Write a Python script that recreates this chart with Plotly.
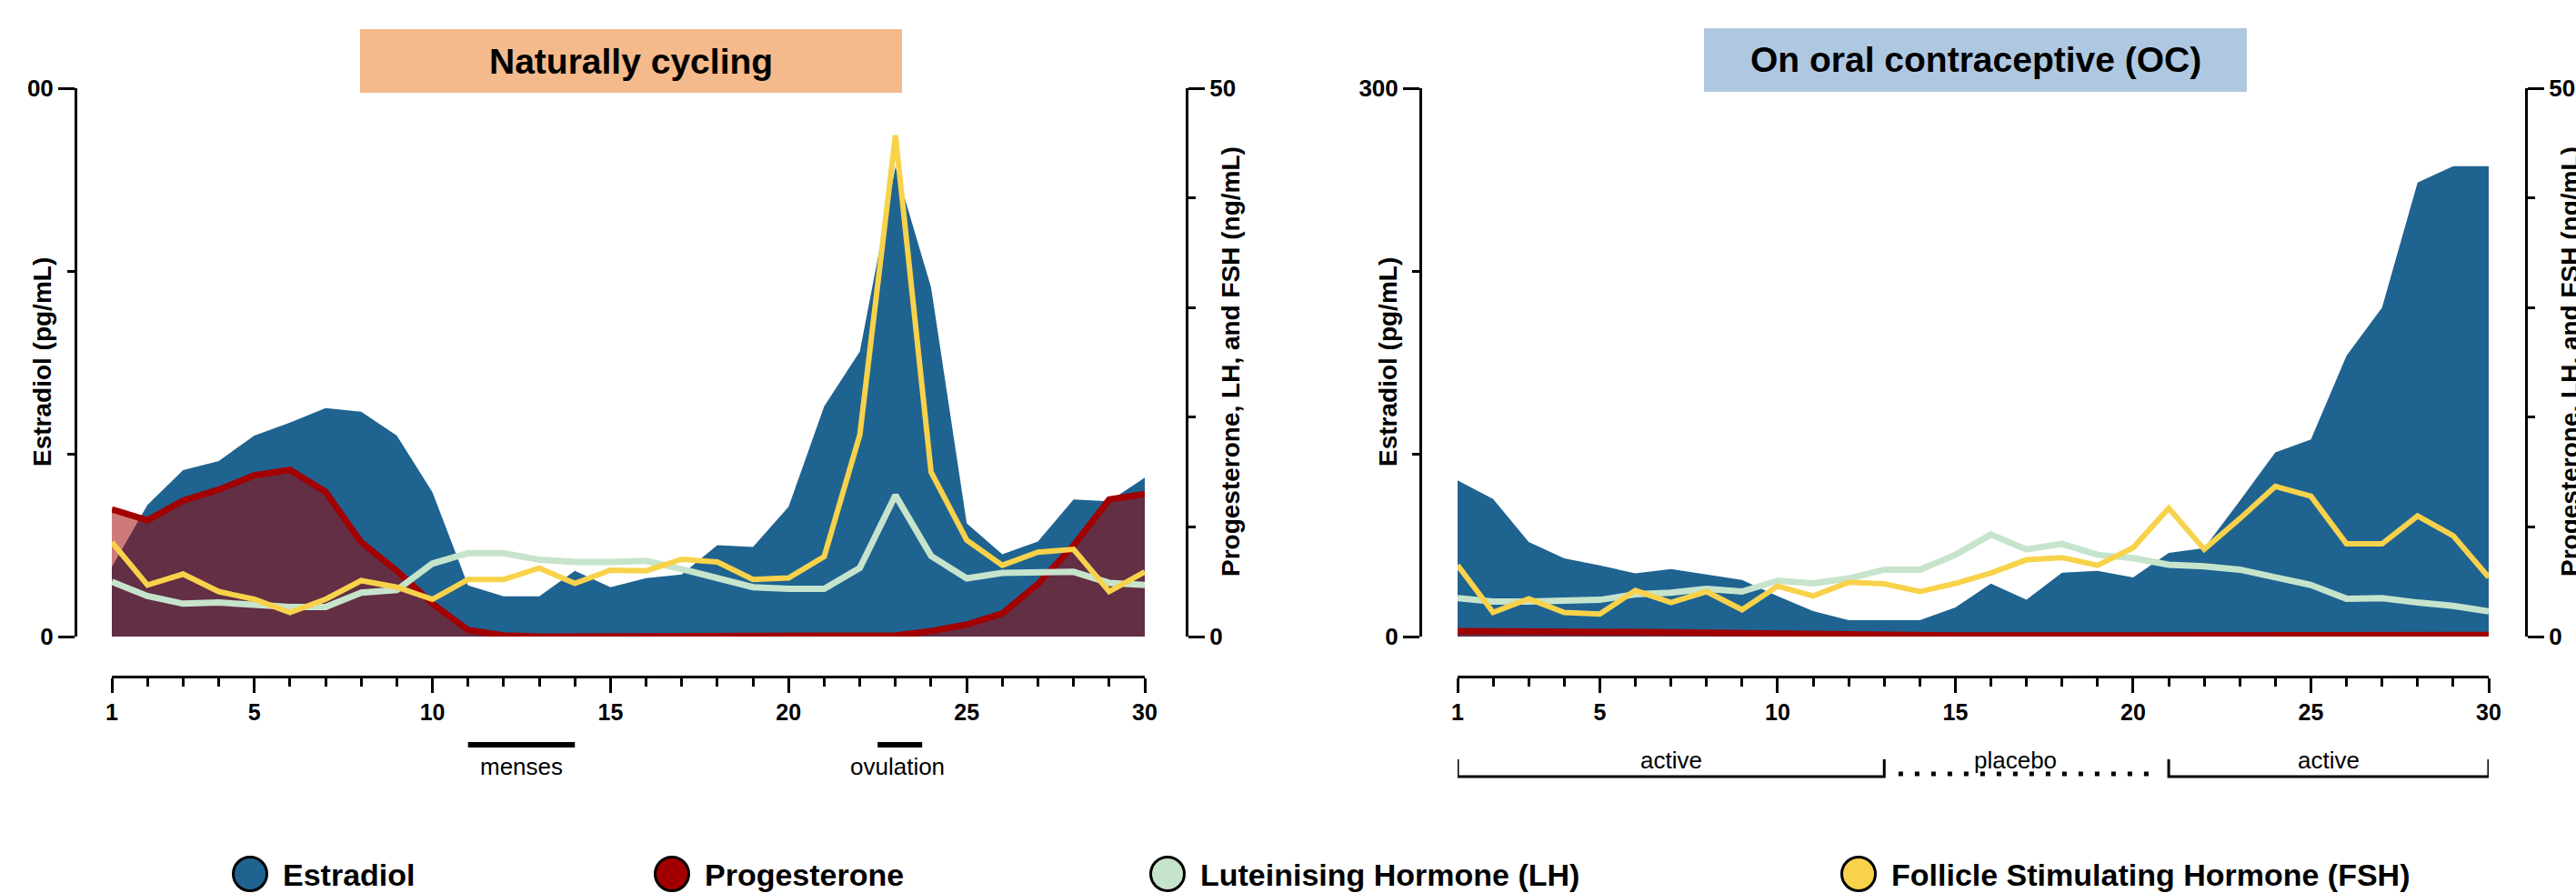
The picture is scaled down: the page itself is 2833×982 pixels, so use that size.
import plotly.graph_objects as go

W, H = 2833, 982

# ---------------- data ----------------
days = list(range(1, 31))

nat_estradiol = [38, 72, 91, 96, 110, 117, 125, 123, 110, 79, 28, 22, 22, 36, 27,
                 32, 34, 50, 49, 71, 126, 156, 257, 191, 62, 45, 52, 75, 74, 87]
nat_progesterone = [11.6, 10.6, 12.4, 13.4, 14.7, 15.2, 13.2, 8.6, 6.0, 3.0, 0.6, 0.1, 0, 0, 0,
                    0, 0, 0, 0, 0, 0, 0, 0.1, 0.5, 1.1, 2.1, 4.8, 8.3, 12.5, 13.0]
nat_lh = [5.0, 3.7, 3.0, 3.1, 2.9, 2.7, 2.7, 4.0, 4.25, 6.65, 7.6, 7.6, 7.0, 6.8, 6.8,
          6.9, 6.15, 5.3, 4.5, 4.35, 4.35, 6.25, 12.9, 7.35, 5.3, 5.8, 5.9, 5.9, 4.9, 4.7]
nat_fsh = [8.6, 4.7, 5.7, 4.1, 3.4, 2.2, 3.4, 5.1, 4.5, 3.4, 5.2, 5.2, 6.25, 4.85, 6.05,
           6.0, 7.05, 6.8, 5.2, 5.35, 7.3, 18.4, 45.7, 15.0, 8.8, 6.5, 7.7, 7.95, 4.1, 5.9]

oc_estradiol = [85.5, 75.3, 51.7, 42.8, 38.9, 34.6, 36.9, 34.0, 31.0, 22.2, 13.9, 9.0, 9.0, 9.0, 15.9,
                29.0, 20.2, 35.0, 35.9, 32.4, 45.8, 48.4, 74.3, 100.8, 107.8, 153.6, 180.0, 248.4, 257.3, 257.3]
oc_progesterone = [0.5, 0.5, 0.45, 0.45, 0.45, 0.4, 0.4, 0.35, 0.3, 0.25, 0.2, 0.2, 0.15, 0.15, 0.1,
                   0.1, 0.1, 0.1, 0.1, 0.1, 0.1, 0.1, 0.1, 0.1, 0.15, 0.15, 0.15, 0.2, 0.15, 0.15]
oc_lh = [3.5, 3.2, 3.2, 3.3, 3.35, 3.85, 4.0, 4.35, 4.1, 5.1, 4.85, 5.3, 6.1, 6.1, 7.45,
         9.3, 7.95, 8.45, 7.45, 7.15, 6.55, 6.4, 6.1, 5.4, 4.7, 3.45, 3.5, 3.1, 2.8, 2.3]
oc_fsh = [6.5, 2.2, 3.45, 2.2, 2.05, 4.2, 3.1, 4.1, 2.45, 4.6, 3.7, 4.95, 4.8, 4.1, 4.85,
          5.8, 7.0, 7.2, 6.5, 8.1, 11.7, 7.95, 10.75, 13.7, 12.8, 8.45, 8.45, 11.0, 9.2, 5.4]

x_tickvals = [1, 5, 10, 15, 20, 25, 30]
series_names = ["Estradiol", "Progesterone", "Luteinising Hormone (LH)",
                "Follicle Stimulating Hormone (FSH)"]
panel_titles = ["Naturally cycling", "On oral contraceptive (OC)"]
left_title = "Estradiol (pg/mL)"
right_title = "Progesterone, LH, and FSH (ng/mL)"

# ---------------- styling ----------------
FONT = "Arial, 'Liberation Sans', Helvetica, sans-serif"
BLUE = "#1F6391"
RED = "#A20000"
RED_FILL = "rgba(162,0,0,0.52)"
LH_C = "#C6E4CC"
FSH_C = "#F8D24A"
PEACH = "#F5BA8B"
LBLUE = "#AFC8E1"


def PX(xp):
    return xp / W


def PY(yp):
    return 1 - yp / H


fig = go.Figure()

panels = [
    dict(x="x", ya="y", yb="y2", E=nat_estradiol, P=nat_progesterone, LH=nat_lh, FSH=nat_fsh),
    dict(x="x2", ya="y3", yb="y4", E=oc_estradiol, P=oc_progesterone, LH=oc_lh, FSH=oc_fsh),
]

for p in panels:
    fig.add_trace(go.Scatter(x=days, y=p["E"], xaxis=p["x"], yaxis=p["ya"], mode="lines",
                             line=dict(width=0, color=BLUE), fill="tozeroy", fillcolor=BLUE,
                             name=series_names[0], showlegend=False))
    fig.add_trace(go.Scatter(x=days, y=p["P"], xaxis=p["x"], yaxis=p["yb"], mode="lines",
                             line=dict(width=7, color=RED), fill="tozeroy", fillcolor=RED_FILL,
                             name=series_names[1], showlegend=False))
    fig.add_trace(go.Scatter(x=days, y=p["LH"], xaxis=p["x"], yaxis=p["yb"], mode="lines",
                             line=dict(width=7, color=LH_C),
                             name=series_names[2], showlegend=False))
    fig.add_trace(go.Scatter(x=days, y=p["FSH"], xaxis=p["x"], yaxis=p["yb"], mode="lines",
                             line=dict(width=6, color=FSH_C),
                             name=series_names[3], showlegend=False))

ydom = [PY(700), PY(97)]
tickfont_y = dict(family=FONT, size=26, color="black", weight="bold")
tickfont_x = dict(family=FONT, size=25, color="black", weight="bold")


def xaxis_cfg(x0, x1):
    return dict(domain=[PX(x0), PX(x1)], range=[1, 30], anchor="free", position=PY(744),
                showline=True, linewidth=3, linecolor="black", showgrid=False, zeroline=False,
                ticks="outside", tickvals=x_tickvals, ticklen=16, tickwidth=3, tickcolor="black",
                minor=dict(dtick=1, tick0=1, ticks="outside", ticklen=9, tickwidth=3, tickcolor="black"),
                tickfont=tickfont_x, automargin=False, fixedrange=True)


def yaxis_cfg(pos, side, rng, labels, minor_dtick, overlay=None):
    d = dict(range=rng, anchor="free", position=PX(pos), side=side,
             showline=True, linewidth=3, linecolor="black", showgrid=False, zeroline=False,
             ticks="outside", tickmode="array", tickvals=rng, ticktext=labels, ticklen=18,
             tickwidth=3, tickcolor="black",
             minor=dict(dtick=minor_dtick, tick0=0, ticks="outside", ticklen=8, tickwidth=3,
                        tickcolor="black"),
             tickfont=tickfont_y, automargin=False, fixedrange=True)
    if overlay:
        d["overlaying"] = overlay
    else:
        d["domain"] = ydom
    return d


fig.update_layout(
    width=W, height=H, autosize=False, template="none",
    paper_bgcolor="white", plot_bgcolor="rgba(0,0,0,0)",
    margin=dict(l=0, r=0, t=0, b=0, pad=0),
    showlegend=False,
    font=dict(family=FONT, color="black"),
    xaxis=xaxis_cfg(123, 1259),
    xaxis2=xaxis_cfg(1603, 2737),
    yaxis=yaxis_cfg(83, "left", [0, 300], ["0", "00"], 100),
    yaxis2=yaxis_cfg(1305, "right", [0, 50], ["0", "50"], 10, overlay="y"),
    yaxis3=yaxis_cfg(1562, "left", [0, 300], ["0", "300"], 100),
    yaxis4=yaxis_cfg(2778, "right", [0, 50], ["0", "50"], 10, overlay="y3"),
)

shapes = []
annotations = []

# title boxes
for (x0, x1, y0, y1, col, txt) in [(396, 992, 32, 102, PEACH, panel_titles[0]),
                                   (1874, 2471, 31, 101, LBLUE, panel_titles[1])]:
    shapes.append(dict(type="rect", xref="paper", yref="paper", x0=PX(x0), x1=PX(x1),
                       y0=PY(y1), y1=PY(y0), fillcolor=col, line=dict(width=0), layer="below"))
    annotations.append(dict(xref="paper", yref="paper", x=PX((x0 + x1) / 2), y=PY((y0 + y1) / 2),
                            text="<b>" + txt + "</b>", showarrow=False, xanchor="center",
                            yanchor="middle", font=dict(family=FONT, size=39, color="black")))

# axis titles
for xc, txt in [(46, left_title), (1353, right_title), (1526, left_title), (2826, right_title)]:
    annotations.append(dict(xref="paper", yref="paper", x=PX(xc), y=PY(398), text="<b>" + txt + "</b>",
                            textangle=-90, showarrow=False, xanchor="center", yanchor="middle",
                            font=dict(family=FONT, size=28, color="black")))

# menses / ovulation markers (left panel, in day units)
for (d0, d1, lbl, lc) in [(11, 14, "menses", 12.5), (22.5, 23.75, "ovulation", 23.05)]:
    shapes.append(dict(type="line", xref="x", yref="paper", x0=d0, x1=d1, y0=PY(819), y1=PY(819),
                       line=dict(color="black", width=6)))
    annotations.append(dict(xref="x", yref="paper", x=lc, y=PY(843), text=lbl, showarrow=False,
                            xanchor="center", yanchor="middle",
                            font=dict(family=FONT, size=26, color="black")))

# active / placebo brackets (right panel)
yb, yt = 854, 835
for (d0, d1, lbl) in [(1, 13, "active"), (21, 30, "active")]:
    shapes.append(dict(type="path", xref="x2", yref="paper",
                       path=f"M {d0},{PY(yt)} L {d0},{PY(yb)} L {d1},{PY(yb)} L {d1},{PY(yt)}",
                       line=dict(color="black", width=3)))
    annotations.append(dict(xref="x2", yref="paper", x=(d0 + d1) / 2, y=PY(836), text=lbl,
                            showarrow=False, xanchor="center", yanchor="middle",
                            font=dict(family=FONT, size=26, color="black")))
shapes.append(dict(type="line", xref="x2", yref="paper", x0=13.4, x1=20.55, y0=PY(851), y1=PY(851),
                   line=dict(color="black", width=5, dash="5px,13px")))
annotations.append(dict(xref="x2", yref="paper", x=16.7, y=PY(836), text="placebo", showarrow=False,
                        xanchor="center", yanchor="middle",
                        font=dict(family=FONT, size=26, color="black")))

# legend
leg_cols = [BLUE, RED, LH_C, FSH_C]
leg_cx = [275, 739, 1284, 2044]
r = 18.5
for name, col, cx in zip(series_names, leg_cols, leg_cx):
    shapes.append(dict(type="circle", xref="paper", yref="paper", x0=PX(cx - r), x1=PX(cx + r),
                       y0=PY(961 + r), y1=PY(961 - r), fillcolor=col, line=dict(color="black", width=3)))
    annotations.append(dict(xref="paper", yref="paper", x=PX(cx + 34), y=PY(962), text="<b>" + name + "</b>",
                            showarrow=False, xanchor="left", yanchor="middle",
                            font=dict(family=FONT, size=34, color="black")))

fig.update_layout(shapes=shapes, annotations=annotations)

fig.write_html("out.html",
               config={"displayModeBar": False, "staticPlot": True},
               post_script="document.body.style.margin='0';document.body.style.padding='0';"
                           "document.body.style.overflow='hidden';")
